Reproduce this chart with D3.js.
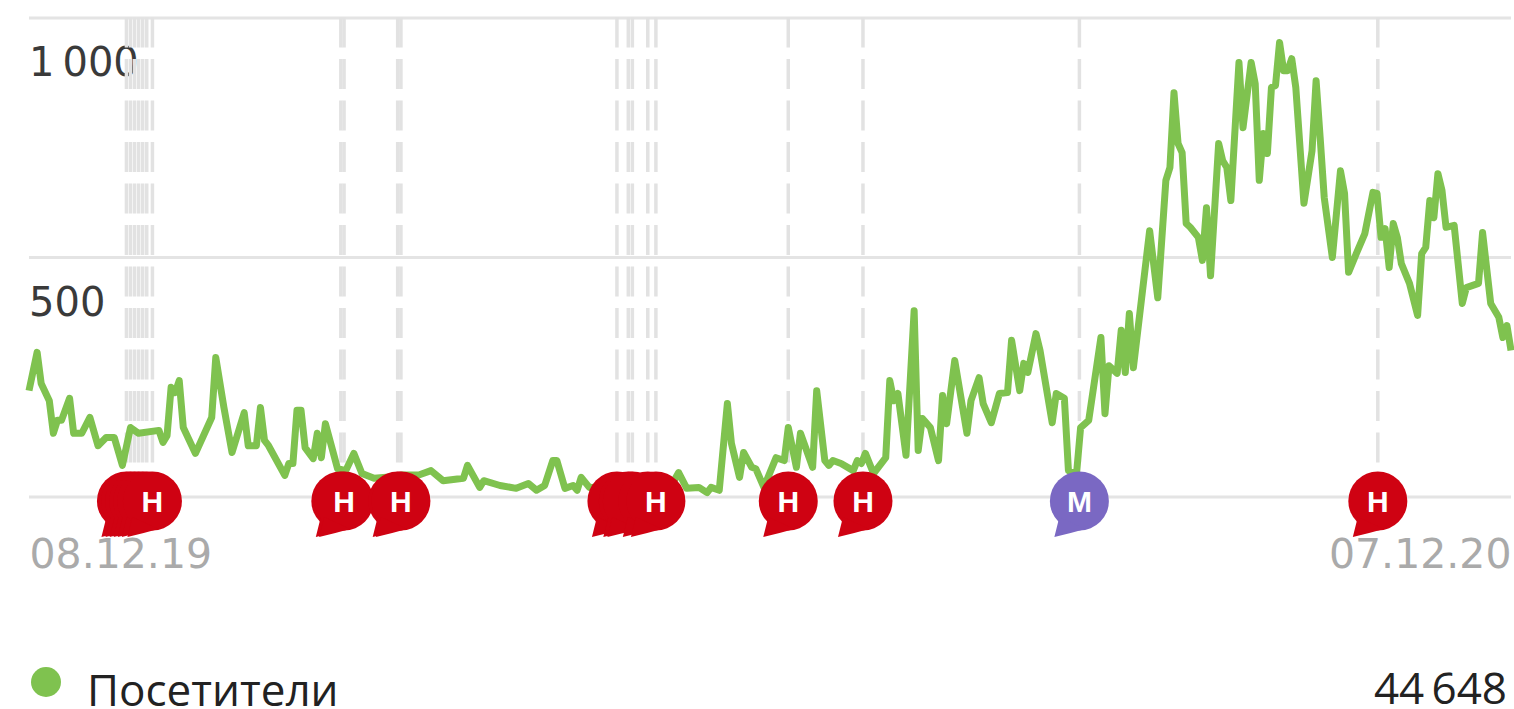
<!DOCTYPE html>
<html>
<head>
<meta charset="utf-8">
<script src="https://cdn.jsdelivr.net/npm/d3@7"></script>
<style>
    html, body { margin: 0; background: #fff; overflow: hidden; }
    svg { display: block; }
    .grid line { stroke: #e4e4e4; stroke-width: 3px; }
    .grid .domain, .dates .domain, .dates line { display: none; }
    .grid text { font: 40px "DejaVu Sans"; fill: #3a3a3a; }
    .dates text { font: 41px "DejaVu Sans"; fill: #aaa; }
    .legend text { font: 44px "Open Sans"; fill: #222; }
</style>
</head>
<body>
<div id="chart"></div>
<script>
// days since 08.12.19, only the turning points of the line
const days = [0,2,3,5,6,7,8,10,11,13,15,17,19,21,23,25,27,32,33,34,35,36,37,38,41,45,46,48,50,53,54,56,57,58,59,63,64,65,66,67,68,70,71,72,73,76,78,80,82,85,88,92,96,99,102,107,108,111,112,116,120,123,125,127,129,130,132,134,135,136,138,142,147,152,156,158,160,162,165,167,168,170,172,173,175,176,178,179,181,184,186,187,189,190,193,194,196,197,198,200,203,204,205,206,208,211,212,213,214,216,218,219,220,222,224,225,226,228,231,232,234,235,237,239,241,242,244,245,246,248,249,252,253,255,256,258,259,261,264,265,266,268,269,270,271,272,276,278,280,281,282,283,284,285,286,288,289,290,291,293,294,295,296,298,299,301,302,303,304,305,306,307,308,309,310,311,312,314,316,317,318,319,321,323,324,325,327,329,331,332,333,334,335,336,337,338,340,342,343,344,345,346,347,348,349,351,353,354,357,358,360,362,363,364,365];
const visitors = [221,301,236,200,132,159,159,205,132,132,165,106,123,123,65,144,132,138,113,127,228,217,242,144,90,165,290,186,92,175,106,106,186,117,106,44,69,69,180,180,102,79,132,81,152,58,54,90,48,38,40,45,45,54,33,38,65,19,33,23,17,27,13,23,75,75,17,23,13,40,19,20,25,20,25,20,50,17,19,8,19,13,194,111,40,92,61,58,19,81,75,144,61,132,61,221,75,65,75,69,54,75,69,90,48,81,242,200,215,86,388,96,163,144,75,211,152,284,132,200,248,194,154,215,217,326,221,278,259,340,305,154,215,205,54,48,144,159,332,173,273,257,347,259,382,269,555,415,660,687,843,737,718,570,562,541,493,603,461,737,701,687,618,906,770,906,862,660,758,716,854,858,948,889,889,914,854,612,722,868,749,624,499,680,633,468,509,549,635,633,541,559,478,570,541,486,445,378,507,520,618,582,674,639,562,566,403,436,445,551,403,374,332,357,305];

const yTicks = [0, 500, 1000];
const dateLabels = ["08.12.19", "07.12.20"];
const lastDay = 365;

// notes on the chart, in drawing order
const noteDays = [24,25,26,27,28,29,30.4,76.8,77.6,90.8,91.6,144.8,147.6,148.6,152.4,154.4,187,205.4,258.7,332.2];
const noteKinds = ["Н","Н","Н","Н","Н","Н","Н","Н","Н","Н","Н","Н","Н","Н","Н","Н","Н","Н","М","Н"];

const seriesName = "Посетители";
const seriesTotal = "44\u2009648";

const width = 1514,
    height = 709,
    margin = ({ top: 17.5, right: 3, bottom: 212.5, left: 29 });

const green = "#7fc24f";
const noteColor = d3.scaleOrdinal(["Н", "М"], ["#cf0212", "#7a68c3"]);

const svg = d3.select("#chart")
    .append("svg")
    .attr("width", width)
    .attr("height", height)
    .attr("viewBox", [0, 0, width, height]);

let x = d3.scaleLinear([0, lastDay], [margin.left, width - margin.right]);
let y = d3.scaleLinear([0, 1000], [height - margin.bottom, margin.top]);

// grid lines, the labels sit under their line
svg.append("g")
    .attr("class", "grid")
    .attr("transform", `translate(${margin.left},0)`)
    .call(d3.axisLeft(y)
        .tickValues(yTicks)
        .tickSize(-(width - margin.left - margin.right))
        .tickFormat(d => d === 0 ? "" : (d >= 1000 ? d3.format(",")(d).replace(",", "\u2009") : d)))
    .call(g => g.selectAll(".tick text")
        .attr("x", 0)
        .attr("dy", "58px")
        .attr("text-anchor", "start"));

// dashed note rules
svg.append("g")
    .selectAll("line")
    .data(noteDays)
    .join("line")
    .attr("x1", d => x(d))
    .attr("x2", d => x(d))
    .attr("y1", y(1000))
    .attr("y2", y(0) - 6)
    .attr("stroke", "#e2e2e2")
    .attr("stroke-width", 3.5)
    .attr("stroke-dasharray", "30,11.5");

const line = d3.line()
    .x(d => x(d[0]))
    .y(d => y(d[1]));

svg.append("path")
    .datum(d3.zip(days, visitors))
    .attr("fill", "none")
    .attr("stroke", green)
    .attr("stroke-width", 7)
    .attr("stroke-linejoin", "round")
    .attr("d", line);

// date labels at both ends
svg.append("g")
    .attr("class", "dates")
    .attr("transform", `translate(0,${height - margin.bottom})`)
    .call(d3.axisBottom(x)
        .tickValues([0, lastDay])
        .tickSize(0)
        .tickFormat((d, i) => dateLabels[i]))
    .call(g => g.selectAll(".tick text")
        .attr("y", 71)
        .attr("dy", 0)
        .attr("text-anchor", (d, i) => i ? "end" : "start"));

// speech balloons
const notes = svg.append("g")
    .selectAll("g")
    .data(d3.zip(noteDays, noteKinds))
    .join("g")
    .attr("transform", d => `translate(${x(d[0])},501)`)
    .attr("fill", d => noteColor(d[1]));

notes.append("circle").attr("r", 29.5);
notes.append("path").attr("d", "M-20,16L-25,36Q-8,32 6,28Z");
notes.append("text")
    .attr("y", 11)
    .attr("text-anchor", "middle")
    .attr("fill", "#fff")
    .style("font", "bold 30px 'Liberation Sans'")
    .text(d => d[1]);

const legend = svg.append("g").attr("class", "legend");

legend.append("circle")
    .attr("cx", 46)
    .attr("cy", 682)
    .attr("r", 15)
    .attr("fill", green);

legend.append("text")
    .attr("x", 87)
    .attr("y", 706)
    .text(seriesName);

legend.append("text")
    .attr("x", 1507)
    .attr("y", 704)
    .attr("text-anchor", "end")
    .text(seriesTotal);
</script>
</body>
</html>
